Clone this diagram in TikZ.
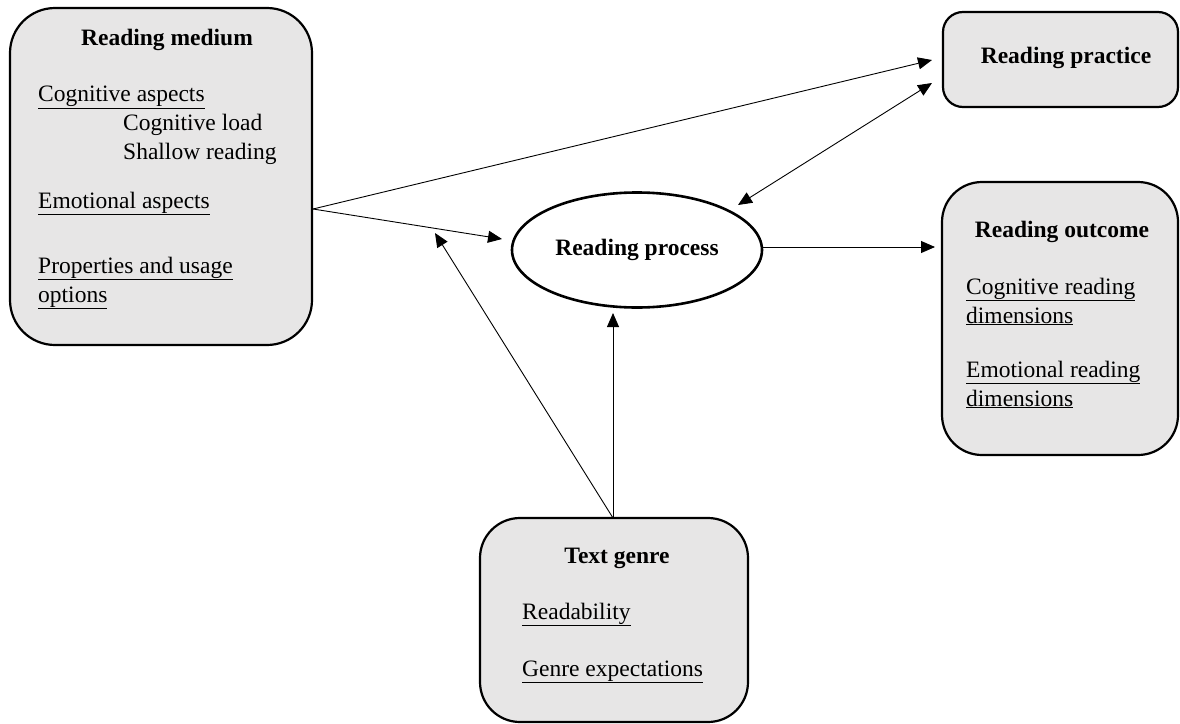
\documentclass[tikz,border=0pt]{standalone}
\usepackage{fontspec}
\setmainfont{Liberation Serif}
\usetikzlibrary{arrows.meta,shapes.geometric}
\definecolor{boxgrey}{RGB}{231,230,230}
\begin{document}
\begin{tikzpicture}[x=1pt,y=-1pt,
  box/.style={draw=black,line width=2.2pt,fill=boxgrey,inner sep=0pt},
  txt/.style={anchor=base west,inner sep=0pt,font=\fontsize{23.5}{28}\selectfont},
  ttl/.style={anchor=base,inner sep=0pt,font=\fontsize{23.5}{28}\selectfont\bfseries},
  conn/.style={line width=0.9pt,-{Triangle[length=14pt,width=12pt]}},
  bconn/.style={line width=0.9pt,{Triangle[length=14pt,width=12pt]}-{Triangle[length=14pt,width=12pt]}}
]
\useasboundingbox (0,0) rectangle (1180,723);
% boxes
\node[box,rounded corners=45pt,minimum width=302pt,minimum height=337pt] (medium) at (161,176.5) {};
\node[box,rounded corners=20pt,minimum width=235pt,minimum height=95pt] (practice) at (1060.5,59.5) {};
\node[box,rounded corners=40pt,minimum width=236pt,minimum height=273pt] (outcome) at (1060,318.5) {};
\node[box,rounded corners=40pt,minimum width=268pt,minimum height=204pt] (genre) at (614,620) {};
\node[draw,ellipse,line width=2.6pt,minimum width=250pt,minimum height=115pt,inner sep=0pt,
  font=\fontsize{23.5}{28}\selectfont\bfseries] (process) at (637,250) {Reading process};
% Reading medium text
\node[ttl] (mt) at (167,45) {Reading medium};
\node[txt] (m1) at (38,101.5) {\underline{Cognitive aspects}};
\node[txt] (m2) at (123,130.5) {Cognitive load};
\node[txt] (m3) at (123,159.5) {Shallow reading};
\node[txt] (m4) at (38,208) {\underline{Emotional aspects}};
\node[txt] (m5) at (38,273) {\underline{Properties and usage}};
\node[txt] (m6) at (38,302) {\underline{options}};
% Reading practice
\node[ttl] (pt) at (1066,63) {Reading practice};
% Reading outcome
\node[ttl] (ot) at (1062,237) {Reading outcome};
\node[txt] (o1) at (966,294) {\underline{Cognitive reading}};
\node[txt] (o2) at (966,323) {\underline{dimensions}};
\node[txt] (o3) at (966,377) {\underline{Emotional reading}};
\node[txt] (o4) at (966,406) {\underline{dimensions}};
% Text genre
\node[ttl] (gt) at (617,563) {Text genre};
\node[txt] (g1) at (522,619) {\underline{Readability}};
\node[txt] (g2) at (522,676) {\underline{Genre expectations}};
% connector points
\coordinate (src) at (313,209);
\coordinate (pIn1) at (932,60);
\coordinate (pIn2) at (932,83);
\coordinate (procNE) at (738,205);
\coordinate (procW) at (502,239);
\coordinate (procE) at (762,247);
\coordinate (outW) at (935,247);
\coordinate (gTop) at (613,518);
\coordinate (procS) at (613,313);
\coordinate (midArrow) at (435,233);
% connectors
\draw[conn] (src) -- (pIn1);
\draw[conn] (src) -- (procW);
\draw[bconn] (pIn2) -- (procNE);
\draw[conn] (procE) -- (outW);
\draw[conn] (gTop) -- (procS);
\draw[conn] (gTop) -- (midArrow);
\end{tikzpicture}
\end{document}
